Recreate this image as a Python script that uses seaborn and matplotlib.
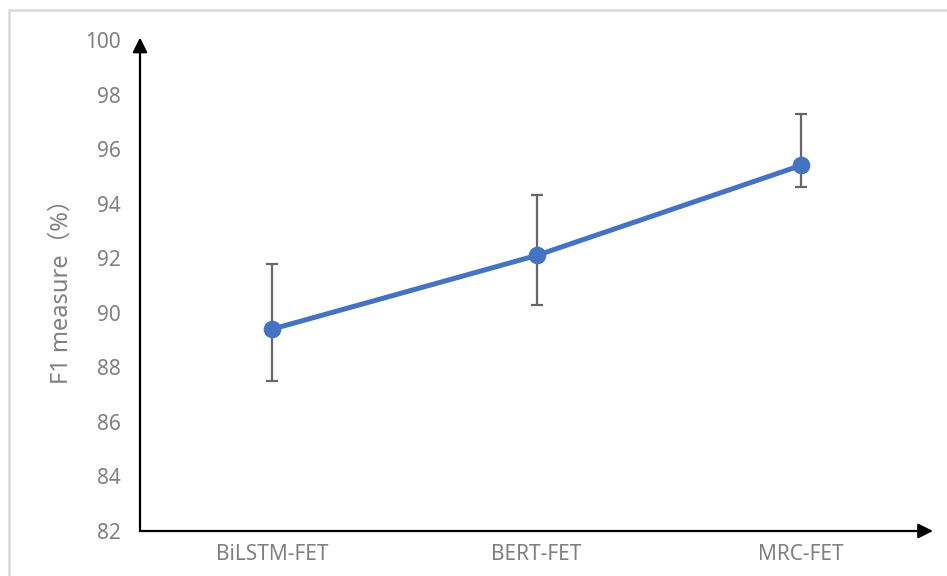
import matplotlib
matplotlib.use("Agg")
import matplotlib.pyplot as plt
from matplotlib.patches import Rectangle
import numpy as np
import pandas as pd
import seaborn as sns

# Model comparison: F1 with asymmetric error ranges
models = ["BiLSTM-FET", "BERT-FET", "MRC-FET"]
f1_scores = [89.4, 92.1, 95.4]
err_upper = [2.4, 2.2, 1.9]
err_lower = [1.9, 1.8, 0.8]
y_ticks = [82, 84, 86, 88, 90, 92, 94, 96, 98, 100]

sns.set_theme(style="white")
plt.rcParams["font.family"] = ["Noto Sans", "Noto Sans CJK SC", "DejaVu Sans"]

df = pd.DataFrame({"model": models, "f1": f1_scores})

fig = plt.figure(figsize=(9.47, 5.76), dpi=100)
ax = fig.add_axes([140 / 947, 45 / 576, 793 / 947, 491 / 576])

# light frame around the chart area
fig.patches.append(Rectangle((9 / 947, -0.05), 1.0, (576 - 10) / 576 + 0.05,
                             transform=fig.transFigure, fill=False,
                             edgecolor="#d9d9d9", linewidth=1.8, zorder=0))

blue = "#4472C4"
pos = np.arange(len(models))
ax.errorbar(pos, f1_scores, yerr=[err_lower, err_upper], fmt="none",
            ecolor="#666666", elinewidth=1.6, capsize=4.5, capthick=1.6, zorder=2)
sns.pointplot(data=df, x="model", y="f1", color=blue, errorbar=None,
              markers="o", markersize=10, linewidth=3.6, ax=ax, zorder=3)
for line in ax.lines:
    if line.get_color() == blue or line.get_markerfacecolor() == blue:
        line.set_zorder(3)

ax.set_xlim(-0.5, 2.5)
ax.set_ylim(82, 100)
ax.set_yticks(y_ticks)
ax.set_yticklabels([str(t) for t in y_ticks])
ax.set_xlabel("")
ax.set_ylabel("F1 measure（%）", color="#808080", fontsize=17, labelpad=8)
ax.tick_params(axis="both", length=0, labelsize=15, labelcolor="#808080")
ax.tick_params(axis="y", pad=14)
ax.tick_params(axis="x", pad=9)
for s in ax.spines.values():
    s.set_visible(False)
ax.grid(False)

# arrowed axes
arrow = dict(arrowstyle="-|>", color="black", lw=1.6, mutation_scale=22,
             shrinkA=0, shrinkB=0)
ax.annotate("", xy=(0, 1.005), xytext=(0, 0), xycoords="axes fraction",
            textcoords="axes fraction", arrowprops=arrow, annotation_clip=False)
ax.annotate("", xy=(1.0, 0), xytext=(0, 0), xycoords="axes fraction",
            textcoords="axes fraction", arrowprops=arrow, annotation_clip=False)

fig.savefig("out.png", dpi=100)
